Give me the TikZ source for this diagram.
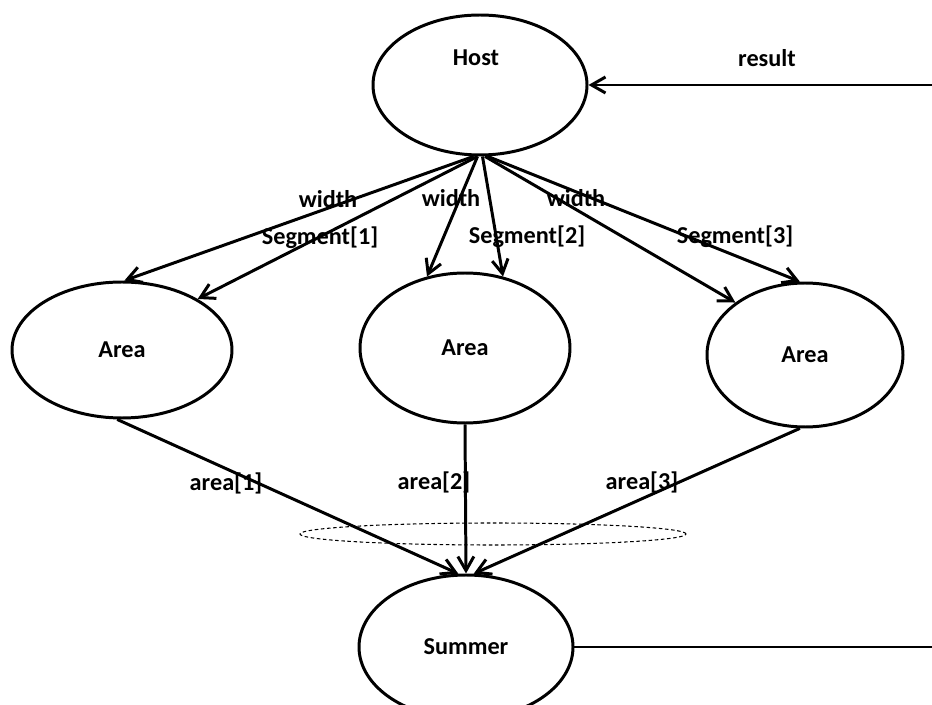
\documentclass[tikz,border=0pt]{standalone}
\usepackage{fontspec}
\setmainfont{Carlito}
\usetikzlibrary{arrows.meta, calc, shapes.geometric}

\begin{document}
\begin{tikzpicture}[>={Straight Barb[length=2.8mm,width=3.2mm]},
		blob/.style={ellipse, draw, line width=1.7pt, inner sep=0pt},
		txt/.style={font=\fontsize{13.8}{16}\selectfont\bfseries},
		wire/.style={->, line width=1.7pt}]
		\def\W{18.64}
		\def\H{14.08}
		\useasboundingbox (0,0) rectangle (\W,\H);
		\clip (0,0) rectangle (\W,\H);
		\coordinate (rim) at (\W,0);
		% nodes
		\node[blob, minimum width=4.28cm, minimum height=2.8cm] (host) at (9.6,12.38) {};
		\node[txt] (hosttext) at (9.52,12.92) {Host};
		\node[blob, txt, minimum width=4.4cm, minimum height=2.72cm] (area1) at (2.44,7.08) {Area};
		\node[blob, txt, minimum width=4.2cm, minimum height=3cm] (area2) at (9.3,7.12) {Area};
		\node[blob, txt, minimum width=3.92cm, minimum height=2.88cm] (area3) at (16.1,6.98) {Area};
		\node[blob, txt, minimum width=4.28cm, minimum height=2.88cm] (summer) at (9.32,1.14) {Summer};
		\node[ellipse, draw, line width=0.6pt, dash pattern=on 2pt off 1.5pt,
			minimum width=7.72cm, minimum height=0.44cm] (group) at (9.86,3.4) {};
		% host -> areas
		\draw[wire] (host.265) -- (area1.88);
		\draw[wire] (host.268) -- (area1.34);
		\draw[wire] (host.268) -- (area2.118);
		\draw[wire] (host.272) -- (area2.62);
		\draw[wire] (host.274) -- (area3.143);
		\draw[wire] (host.276) -- (area3.94);
		% areas -> summer
		\draw[wire] (area1.266) -- (summer.96);
		\draw[wire] (area2.south) -- (summer.north);
		\draw[wire] (area3.266) -- (summer.84);
		% result loop
		\draw[wire] (host.east -| rim) -- (host.east);
		\draw[line width=1.7pt] (summer.east) -- (summer.east -| rim);
		% labels
		\node[txt] (w1) at (6.56,10.10) {width};
		\node[txt] (s1) at (6.40,9.32) {Segment[1]};
		\node[txt] (w2) at (9.02,10.12) {width};
		\node[txt] (s2) at (10.54,9.34) {Segment[2]};
		\node[txt] (w3) at (11.52,10.12) {width};
		\node[txt] (s3) at (14.70,9.34) {Segment[3]};
		\node[txt] (res) at (15.34,12.92) {result};
		\node[txt] (a1) at (4.52,4.42) {area[1]};
		\node[txt] (a2) at (8.68,4.44) {area[2]};
		\node[txt] (a3) at (12.84,4.44) {area[3]};
	\end{tikzpicture}
\end{document}
